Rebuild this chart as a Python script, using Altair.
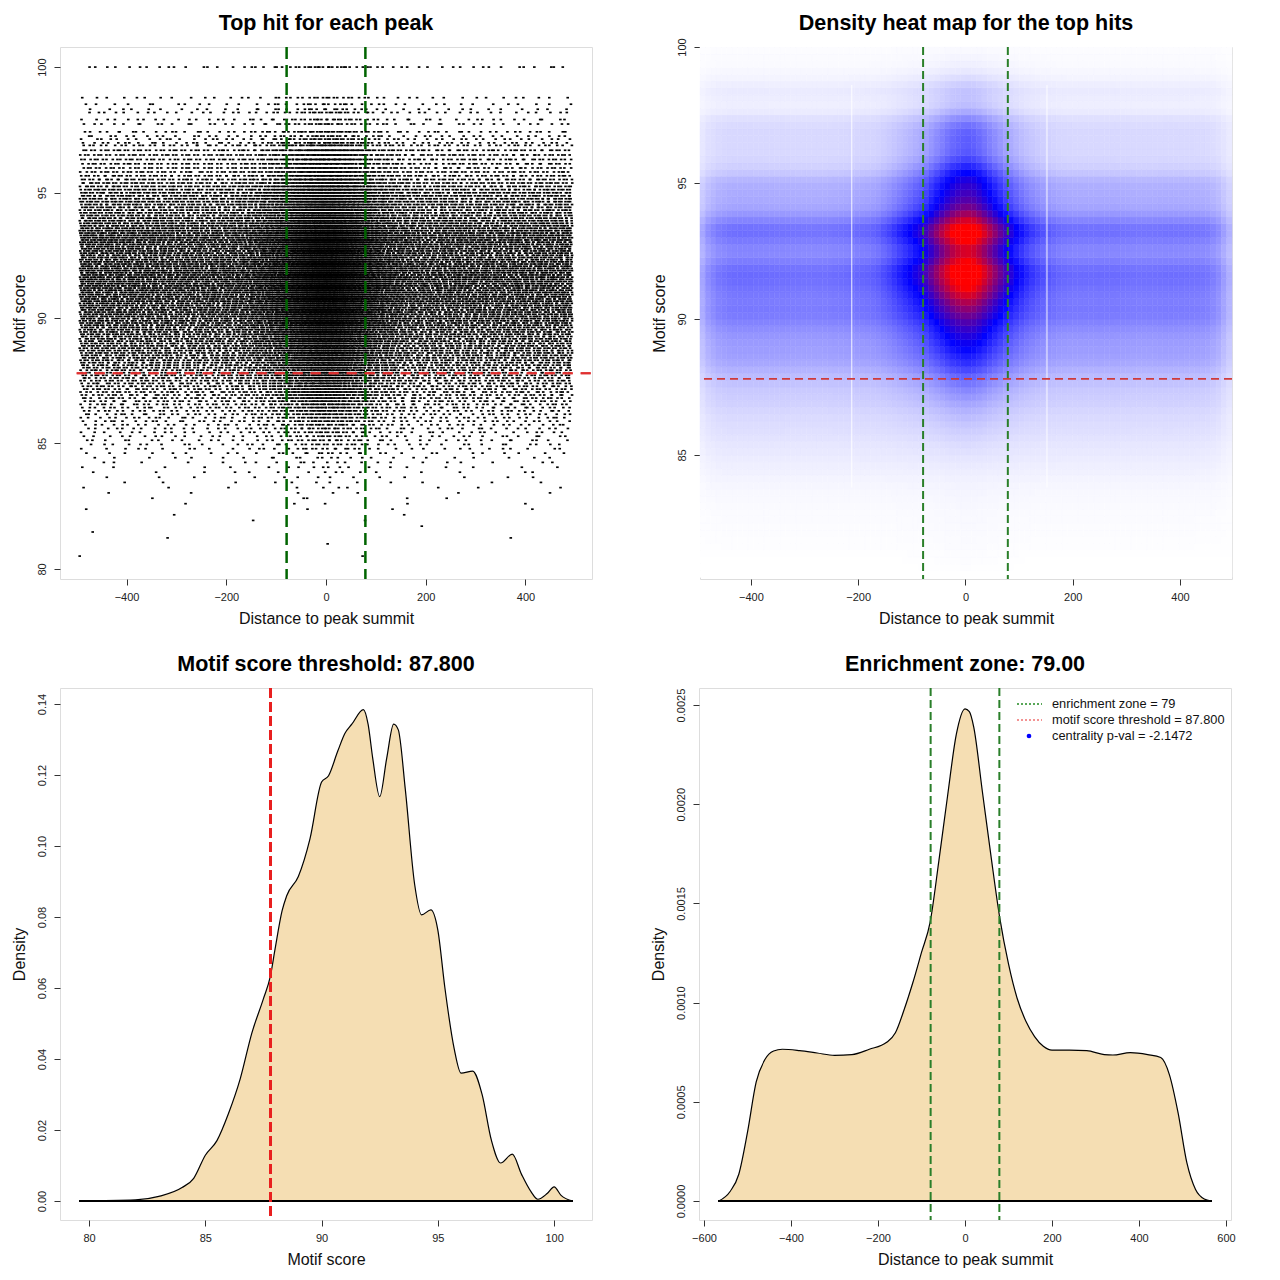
import altair as alt
import numpy as np
import pandas as pd

F = "Liberation Sans"
W = H = 532

# ---------------- values ----------------
threshold = 87.8
enrich_lines = [-79, 79]
red_line_span = [-500, 533.5]          # R drew the threshold line from x=-500 rightwards

# bottom-left: density of motif score
score_x = [79.6, 82.0, 83.0, 84.0, 84.5, 85.0, 85.5, 86.0, 86.5, 87.0,
           87.5, 87.8, 88.0, 88.3, 88.5, 89.0, 89.5, 90.0, 90.3, 90.7,
           91.0, 91.3, 91.8, 92.0, 92.2, 92.5, 92.8, 93.1, 93.3, 93.6,
           94.0, 94.3, 94.7, 95.0, 95.3, 95.7, 96.0, 96.5, 96.9, 97.3,
           97.7, 98.2, 98.6, 99.0, 99.3, 99.7, 100.0, 100.3, 100.8]
score_d = [0.0, 0.0003, 0.0013, 0.0038, 0.0064, 0.0129, 0.017, 0.0247, 0.0344, 0.0473,
           0.057, 0.0634, 0.071, 0.0817, 0.086, 0.0914, 0.102, 0.118, 0.1198, 0.1268,
           0.1317, 0.1343, 0.1384, 0.1343, 0.1247, 0.1139, 0.1247, 0.1343, 0.1327, 0.116,
           0.0893, 0.0806, 0.082, 0.0763, 0.0602, 0.043, 0.036, 0.0366, 0.0301, 0.0172,
           0.0107, 0.0132, 0.0075, 0.0027, 0.0005, 0.0021, 0.004, 0.0016, 0.0]

# bottom-right: density of distance to peak summit
dist_x = [-566, -540, -520, -500, -480, -460, -440, -420, -380, -340,
          -300, -260, -220, -180, -160, -140, -120, -100, -80, -60,
          -40, -20, 0, 10, 20, 40, 60, 80, 100, 120,
          140, 160, 180, 200, 240, 280, 320, 340, 380, 420,
          450, 470, 490, 510, 530, 550, 566]
dist_d = [0.0, 0.000048, 0.000135, 0.000347, 0.0006, 0.000713, 0.000756, 0.000765, 0.000758, 0.000746,
          0.000734, 0.000738, 0.000765, 0.0008, 0.000848, 0.000964, 0.0011, 0.001253, 0.001407, 0.001716,
          0.002043, 0.002352, 0.002481, 0.002467, 0.00239, 0.002063, 0.001735, 0.001426, 0.001195, 0.001021,
          0.000906, 0.000829, 0.00078, 0.000761, 0.000761, 0.000758, 0.000738, 0.000736, 0.000748, 0.000738,
          0.000723, 0.000636, 0.000443, 0.000193, 0.000058, 0.00001, 0.0]

# top-right heat map: colour intensity (0 white, 0.5 blue, 1+ red) per 0.25-wide score band
heat_lo, heat_step = 80.5, 0.25
heat_flank = [0.0, 0.0, 0.0, 0.002, 0.003, 0.004, 0.005, 0.006, 0.007, 0.008,        # 80.5-83.0
              0.01, 0.012, 0.014, 0.017, 0.022, 0.027, 0.032, 0.038, 0.043, 0.048,    # 83.0-85.5
              0.055, 0.062, 0.067, 0.072, 0.08, 0.09, 0.097, 0.105, 0.118, 0.132,    # 85.5-88.0
              0.15, 0.17, 0.185, 0.19, 0.195, 0.205, 0.22, 0.24, 0.255, 0.26,        # 88.0-90.5
              0.255, 0.26, 0.27, 0.28, 0.285, 0.275, 0.25, 0.23, 0.235, 0.255,       # 90.5-93.0
              0.275, 0.27, 0.235, 0.2, 0.175, 0.165, 0.16, 0.155, 0.14, 0.11,        # 93.0-95.5
              0.09, 0.08, 0.075, 0.075, 0.075, 0.075, 0.07, 0.06, 0.04, 0.032,       # 95.5-98.0
              0.035, 0.04, 0.032, 0.022, 0.015, 0.01, 0.008, 0.006]                  # 98.0-100
heat_center = [0.0, 0.003, 0.005, 0.006, 0.008, 0.009, 0.01, 0.011, 0.012, 0.013,
               0.015, 0.017, 0.02, 0.023, 0.028, 0.034, 0.041, 0.05, 0.06, 0.07,
               0.083, 0.097, 0.112, 0.13, 0.15, 0.175, 0.205, 0.235, 0.27, 0.31,
               0.36, 0.41, 0.45, 0.49, 0.53, 0.57, 0.61, 0.66, 0.72, 0.78,
               0.85, 0.93, 1.0, 1.06, 1.1, 1.1, 1.0, 0.93, 0.93, 1.02,
               1.1, 1.06, 0.93, 0.82, 0.73, 0.67, 0.63, 0.6, 0.56, 0.5,
               0.43, 0.37, 0.33, 0.32, 0.32, 0.31, 0.28, 0.23, 0.17, 0.13,
               0.12, 0.12, 0.1, 0.07, 0.045, 0.03, 0.02, 0.012]
artifact_x = [-212, 152]
artifact_span = [83.8, 98.6]

# scatter (top-left): estimated number of peaks and the discrete score rows
N_PEAKS = 24000
top_rows = [100.0, 98.78, 98.52, 98.32, 98.19, 97.91, 97.73, 97.42, 97.25, 97.13, 96.98, 96.88]
row_gap_at = [80.4, 84.0, 86.0, 88.0, 90.0, 93.0, 95.0, 96.0, 97.0]     # score
row_gap = [0.25, 0.2, 0.14, 0.1, 0.087, 0.087, 0.12, 0.16, 0.2]           # spacing of rows there
LOW_ROW = 80.4
X_LIMIT = 494

legend_labels = ["enrichment zone = 79", "motif score threshold = 87.800",
                 "centrality p-val = -2.1472"]

dist_ticks = [-400, -200, 0, 200, 400]
dist_ticks_wide = [-600, -400, -200, 0, 200, 400, 600]
score_ticks = [80, 85, 90, 95, 100]
score_ticks_heat = [85, 90, 95, 100]
dens_ticks_score = [0.0, 0.02, 0.04, 0.06, 0.08, 0.10, 0.12, 0.14]
dens_ticks_dist = [0.0, 0.0005, 0.0010, 0.0015, 0.0020, 0.0025]

# ---------------- derived tables ----------------
sx = np.array(score_x); sd = np.array(score_d)
dx = np.array(dist_x, dtype=float); dd = np.array(dist_d)
flat = float(np.mean([v for x, v in zip(dist_x, dist_d) if 200 <= abs(x) <= 450]))
peak = float(dd.max())

# scatter rows: counts from the score density, x from distance-density quantiles
fine = np.linspace(sx[0], sx[-1], 4001)
fd = np.interp(fine, sx, sd)
cdf = np.concatenate([[0.0], np.cumsum(0.5 * (fd[1:] + fd[:-1]) * np.diff(fine))])
cdf /= cdf[-1]
lv = list(top_rows)
s = top_rows[-1]
while True:
    s = s - float(np.interp(s, row_gap_at, row_gap))
    if s < LOW_ROW:
        break
    lv.append(round(s, 3))
levels = np.sort(np.array(lv))
edges = np.concatenate([[sx[0]], (levels[1:] + levels[:-1]) / 2, [sx[-1]]])
edges[-2] = 99.3
cum = np.interp(edges, fine, cdf)
cum[-1] = 1.0
counts = np.diff(np.round(N_PEAKS * cum)).astype(int)

xf = np.linspace(-X_LIMIT, X_LIMIT, 1977)
xd = np.interp(xf, dx, dd)
xd = np.where(np.abs(xf) > 420, np.maximum(xd, flat), xd)
xc = np.concatenate([[0.0], np.cumsum(0.5 * (xd[1:] + xd[:-1]) * np.diff(xf))])
xc /= xc[-1]

PHI = 0.6180339887
SQ2 = 0.41421356237
PLA = 0.7548776662
px, py = [], []
for r, (lev, n) in enumerate(zip(levels, counts)):
    if n <= 0:
        continue
    k = np.arange(n, dtype=float)
    # stratified quantiles, offset inside each stratum by a quadratic Weyl sequence
    h = (0.5 * k * k * PHI + k * ((r * SQ2) % 1.0) + r * PLA) % 1.0
    q = np.clip((k + h) / n, 0, 1)
    px.extend(np.round(np.interp(q, xc, xf), 1))
    py.extend([round(float(lev), 3)] * n)
scatter_df = pd.DataFrame({"x": px, "y": py})

# heat map cells
hx_edges = np.linspace(-495, 497, 101)
hx_c = (hx_edges[:-1] + hx_edges[1:]) / 2
dd_c = np.interp(hx_c, dx, dd)
g = np.clip((dd_c - flat) / (peak - flat), 0, 1)
e = np.clip(dd_c / flat, 0, 1)
rows = []
for j, (fl, ce) in enumerate(zip(heat_flank, heat_center)):
    y0 = heat_lo + j * heat_step
    for i in range(len(hx_c)):
        t = fl * e[i] + (ce - fl) * g[i]
        rows.append({"x0": hx_edges[i], "x1": hx_edges[i + 1],
                     "y0": y0, "y1": y0 + heat_step, "t": float(np.clip(t, 0, 1))})
heat_df = pd.DataFrame(rows)

score_df = pd.DataFrame({"x": score_x, "d": score_d})
dist_df = pd.DataFrame({"x": dist_x, "d": dist_d})
enrich_df = pd.DataFrame({"x": enrich_lines})
art_df = pd.DataFrame({"x": artifact_x, "y0": artifact_span[0], "y1": artifact_span[1]})


# ---------------- helpers ----------------
def xaxis(title, values, fmt="d"):
    return alt.Axis(title=title, values=values, format=fmt, grid=False, domain=False,
                    tickSize=6, tickColor="#333", tickWidth=1,
                    labelFont=F, labelFontSize=11, labelColor="#222", labelPadding=6,
                    labelFlush=False, labelOverlap=False,
                    titleFont=F, titleFontSize=16, titleFontWeight="normal",
                    titleColor="#111", titlePadding=8)


def yaxis(title, values, fmt):
    return alt.Axis(title=title, values=values, format=fmt, grid=False, domain=False,
                    tickSize=6, tickColor="#333", tickWidth=1,
                    labelFont=F, labelFontSize=11, labelColor="#222", labelPadding=7,
                    labelAngle=270, labelAlign="center", labelBaseline="bottom",
                    labelFlush=False, labelOverlap=False,
                    titleFont=F, titleFontSize=16, titleFontWeight="normal",
                    titleColor="#111", titlePadding=9)


def ttl(text, off):
    return alt.TitleParams(text, font=F, fontSize=21.5, fontWeight="bold", color="black",
                           anchor="middle", offset=off)


def sc(lo, hi):
    return alt.Scale(domain=[lo, hi], nice=False, zero=False)


# ---------------- top-left: scatter ----------------
xs_tl = sc(-533.5, 533.5)
ys_tl = sc(79.6, 100.8)
pts = alt.Chart(scatter_df).mark_point(
    shape="M-1.3,-0.85L1.3,-0.85L1.3,0.85L-1.3,0.85Z", filled=True, size=4, color="black",
    opacity=1, strokeWidth=0).encode(
    x=alt.X("x:Q", scale=xs_tl, axis=xaxis("Distance to peak summit", dist_ticks)),
    y=alt.Y("y:Q", scale=ys_tl, axis=yaxis("Motif score", score_ticks, "d")),
)
g_tl = alt.Chart(enrich_df).mark_rule(color="#006400", strokeWidth=2.5, strokeDash=[12, 6]).encode(
    x=alt.X("x:Q", scale=xs_tl))
r_tl = alt.Chart(enrich_df).mark_rule(color="#e03030", strokeWidth=2, strokeDash=[10, 8]).encode(
    x=alt.datum(red_line_span[0], scale=xs_tl), x2=alt.datum(red_line_span[1]),
    y=alt.datum(threshold, scale=ys_tl))
tl = alt.layer(pts, g_tl, r_tl).properties(width=W, height=H, title=ttl("Top hit for each peak", 11))

# ---------------- top-right: heat map ----------------
xs_tr = sc(-495, 497)
ys_tr = sc(80.44, 100)
cscale = alt.Scale(domain=[0, 0.5, 1], range=["#ffffff", "#0000ff", "#ff0000"], interpolate="rgb")
heat = alt.Chart(heat_df).mark_rect(strokeWidth=0.5).encode(
    x=alt.X("x0:Q", scale=xs_tr, axis=xaxis("Distance to peak summit", dist_ticks)),
    x2="x1:Q",
    y=alt.Y("y0:Q", scale=ys_tr, axis=yaxis("Motif score", score_ticks_heat, "d")),
    y2="y1:Q",
    color=alt.Color("t:Q", scale=cscale, legend=None),
    stroke=alt.Stroke("t:Q", scale=cscale, legend=None),
)
art = alt.Chart(art_df).mark_rule(color="white", strokeWidth=1, opacity=0.9).encode(
    x=alt.X("x:Q", scale=xs_tr), y=alt.Y("y0:Q", scale=ys_tr), y2="y1:Q")
g_tr = alt.Chart(enrich_df).mark_rule(color="#2a7f2a", strokeWidth=2, strokeDash=[8, 4]).encode(
    x=alt.X("x:Q", scale=xs_tr))
r_tr = alt.Chart(enrich_df).mark_rule(color="#d03a3a", strokeWidth=1.5, strokeDash=[8, 5]).encode(
    y=alt.datum(threshold, scale=ys_tr))
tr = alt.layer(heat, art, g_tr, r_tr).properties(width=W, height=H,
                                                title=ttl("Density heat map for the top hits", 3))

# ---------------- bottom-left: score density ----------------
xs_bl = sc(78.75, 101.63)
ys_bl = sc(-0.00535, 0.1445)
area_bl = alt.Chart(score_df).mark_area(color="#F5DEB3", interpolate="monotone").encode(
    x=alt.X("x:Q", scale=xs_bl, axis=xaxis("Motif score", score_ticks)),
    y=alt.Y("d:Q", scale=ys_bl, axis=yaxis("Density", dens_ticks_score, ".2f")),
)
line_bl = alt.Chart(score_df).mark_line(color="black", strokeWidth=1.2, interpolate="monotone").encode(
    x=alt.X("x:Q", scale=xs_bl), y=alt.Y("d:Q", scale=ys_bl))
base_bl = alt.Chart(score_df).mark_rule(color="black", strokeWidth=1.5).encode(
    x=alt.datum(score_x[0], scale=xs_bl), x2=alt.datum(score_x[-1]), y=alt.datum(0, scale=ys_bl))
r_bl = alt.Chart(score_df).mark_rule(color="#e82020", strokeWidth=2, strokeDash=[10, 4]).encode(
    x=alt.datum(threshold, scale=xs_bl))
bl = alt.layer(area_bl, line_bl, base_bl, r_bl).properties(
    width=W, height=H, title=ttl("Motif score threshold: 87.800", 12))

# ---------------- bottom-right: distance density ----------------
xs_br = sc(-611.5, 611.5)
ys_br = sc(-0.0000958, 0.002586)
area_br = alt.Chart(dist_df).mark_area(color="#F5DEB3", interpolate="monotone").encode(
    x=alt.X("x:Q", scale=xs_br, axis=xaxis("Distance to peak summit", dist_ticks_wide)),
    y=alt.Y("d:Q", scale=ys_br, axis=yaxis("Density", dens_ticks_dist, ".4f")),
)
line_br = alt.Chart(dist_df).mark_line(color="black", strokeWidth=1.2, interpolate="monotone").encode(
    x=alt.X("x:Q", scale=xs_br), y=alt.Y("d:Q", scale=ys_br))
base_br = alt.Chart(dist_df).mark_rule(color="black", strokeWidth=1.5).encode(
    x=alt.datum(dist_x[0], scale=xs_br), x2=alt.datum(dist_x[-1]), y=alt.datum(0, scale=ys_br))
g_br = alt.Chart(enrich_df).mark_rule(color="#2a7f2a", strokeWidth=2, strokeDash=[8, 4]).encode(
    x=alt.X("x:Q", scale=xs_br))

one = pd.DataFrame({"k": [0]})
leg_layers = []
leg_styles = [("#228B22", [2, 2]), ("#f07070", [2, 2]), None]
for i, (lab, sty) in enumerate(zip(legend_labels, leg_styles)):
    yy = 16 + 16 * i
    if sty is not None:
        leg_layers.append(alt.Chart(one).mark_rule(color=sty[0], strokeWidth=1.3, strokeDash=sty[1]).encode(
            x=alt.value(318), x2=alt.value(343), y=alt.value(yy)))
    else:
        leg_layers.append(alt.Chart(one).mark_point(filled=True, color="#0000ff", size=22, opacity=1).encode(
            x=alt.value(330), y=alt.value(yy)))
    leg_layers.append(alt.Chart(one).mark_text(text=lab, font=F, fontSize=12.8, align="left",
                                                baseline="middle", color="#111").encode(
        x=alt.value(353), y=alt.value(yy)))

br = alt.layer(area_br, line_br, base_br, g_br, *leg_layers).properties(
    width=W, height=H, title=ttl("Enrichment zone: 79.00", 12))

top = alt.hconcat(tl, tr, spacing=56).resolve_scale(x="independent", y="independent")
bottom = alt.hconcat(bl, br, spacing=56).resolve_scale(x="independent", y="independent")
chart = alt.vconcat(top, bottom, spacing=26).resolve_scale(
    x="independent", y="independent", color="independent", stroke="independent"
).properties(padding={"left": 2, "top": 4, "right": 5, "bottom": 5}).configure_view(
    stroke="#444", strokeWidth=1
).configure(font=F, background="white")

chart.save("out.html", embed_options={"renderer": "svg", "actions": False})
